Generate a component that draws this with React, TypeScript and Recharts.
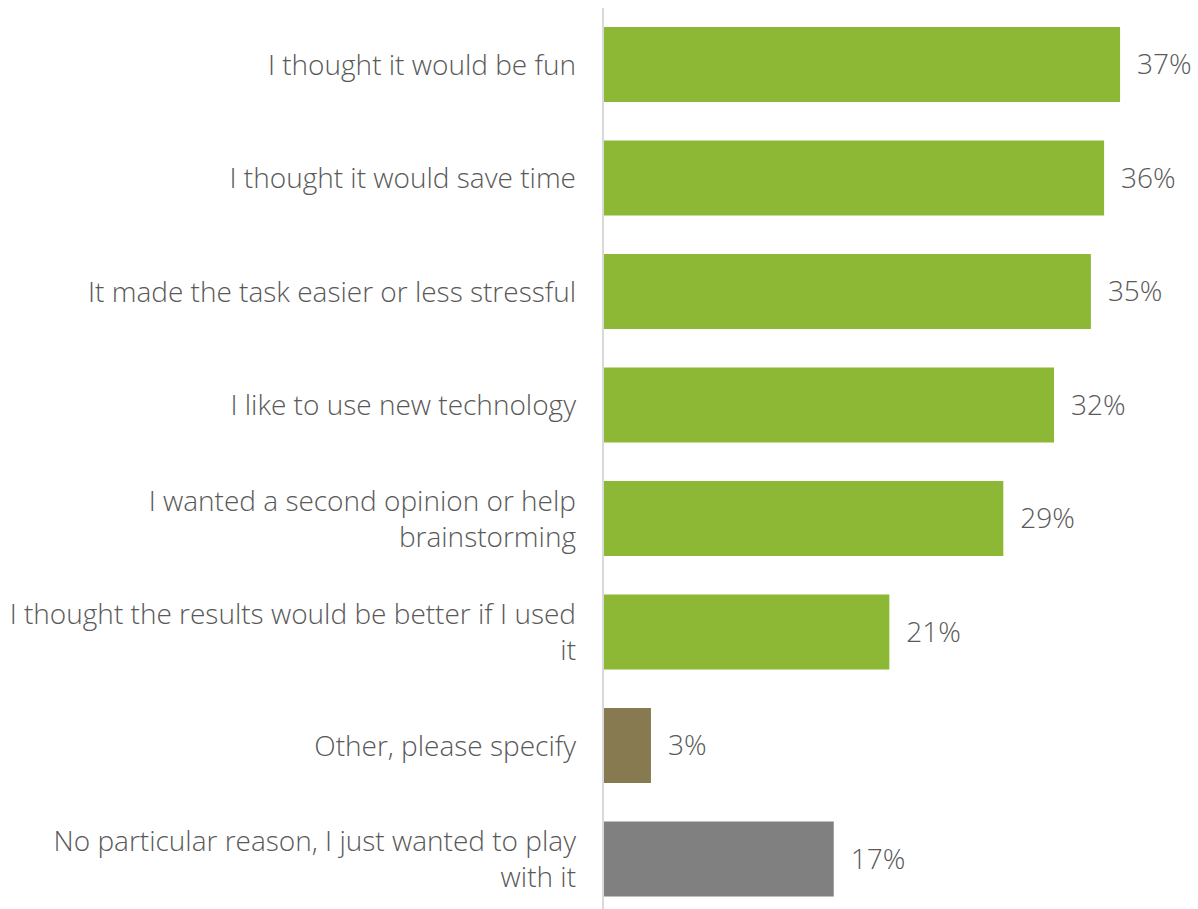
import { BarChart, Bar, XAxis, YAxis, Cell, LabelList } from 'recharts'

const reasons = [
  'I thought it would be fun',
  'I thought it would save time',
  'It made the task easier or less stressful',
  'I like to use new technology',
  'I wanted a second opinion or help\nbrainstorming',
  'I thought the results would be better if I used\nit',
  'Other, please specify',
  'No particular reason, I just wanted to play\nwith it',
]
const shares = [37.2, 36.05, 35.1, 32.45, 28.8, 20.6, 3.45, 16.6]
const colors = ['#8cb836', '#8cb836', '#8cb836', '#8cb836', '#8cb836', '#8cb836', '#877a50', '#808080']

const data = reasons.map((reason, i) => ({ reason, share: shares[i] }))

const font = '"Open Sans", "Noto Sans", sans-serif'
const textColor = '#595959'

const ReasonTick = ({ x, y, payload }: any) => {
  const lines: string[] = String(payload.value).split('\n')
  const lh = 36
  const start = -((lines.length - 1) * lh) / 2
  return (
    <text x={x} y={y} textAnchor="end" fill={textColor}
      style={{ fontFamily: font, fontSize: 28, fontWeight: 300 }}>
      {lines.map((l, i) => (
        <tspan key={i} x={x} y={y + start + i * lh} dy="0.35em">{l}</tspan>
      ))}
    </text>
  )
}

export default function App() {
  return (
    <div style={{ position: 'fixed', top: 0, left: 0, width: 1198, height: 909, overflow: 'hidden', background: '#fff' }}>
      <BarChart width={1198} height={916} data={data} layout="vertical"
        margin={{ top: 8, right: 39, bottom: 0, left: 0 }} barSize={75}>
        <XAxis type="number" domain={[0, 40]} hide />
        <YAxis type="category" dataKey="reason" width={603}
          axisLine={{ stroke: '#d9d9d9', strokeWidth: 2 }} tickLine={false}
          tickSize={0} tickMargin={27} tick={<ReasonTick />} interval={0} />
        <Bar dataKey="share" isAnimationActive={false}>
          {data.map((d, i) => <Cell key={d.reason} fill={colors[i]} />)}
          <LabelList dataKey="share" position="right" offset={17}
            formatter={(v: any) => `${Math.round(Number(v))}%`}
            style={{ fill: textColor, fontFamily: font, fontSize: 28, fontWeight: 300 }} />
        </Bar>
      </BarChart>
    </div>
  )
}
